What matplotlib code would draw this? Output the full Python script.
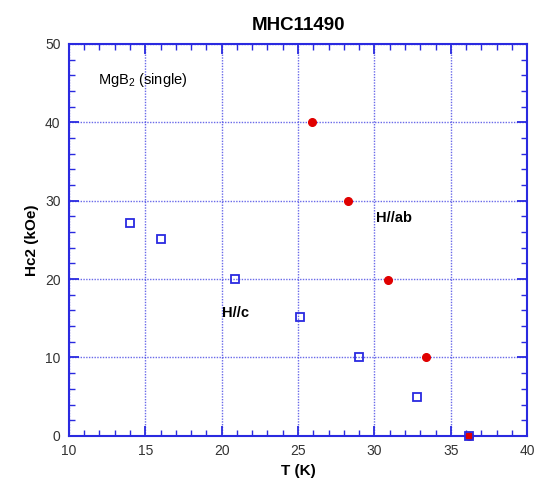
import matplotlib
matplotlib.use('Agg')
import matplotlib.pyplot as plt
from matplotlib.ticker import MultipleLocator

plt.rcParams['font.family'] = ['Liberation Sans', 'DejaVu Sans']

# H parallel to ab (red filled circles)
t_ab = [25.9, 28.3, 30.9, 33.4, 36.2]
h_ab = [40.0, 30.0, 19.9, 10.1, 0.0]

# H parallel to c (blue open squares)
t_c = [14.0, 16.0, 20.9, 25.1, 29.0, 32.8, 36.2]
h_c = [27.2, 25.1, 20.0, 15.1, 10.1, 5.0, 0.0]

blue = '#2a2ae0'

fig = plt.figure(figsize=(5.38, 4.87), dpi=100)
ax = fig.add_axes([0.128, 0.105, 0.852, 0.805])

ax.plot(t_ab, h_ab, 'o', color='#e00000', markersize=5.5, zorder=5, clip_on=False)
ax.plot(t_c, h_c, 's', mfc='none', mec=blue, mew=1.3, markersize=6, zorder=6, clip_on=False)

ax.set_xlim(10, 40)
ax.set_ylim(0, 50)
ax.xaxis.set_major_locator(MultipleLocator(5))
ax.xaxis.set_minor_locator(MultipleLocator(1))
ax.yaxis.set_major_locator(MultipleLocator(10))
ax.yaxis.set_minor_locator(MultipleLocator(2))
ax.tick_params(which='both', direction='in', top=True, right=True, color=blue,
               labelsize=10, labelcolor='#333333', pad=6)
ax.tick_params(which='major', length=7, width=1.3)
ax.tick_params(which='minor', length=4, width=1)
ax.grid(True, which='major', color=blue, linestyle=(0, (1, 1)), linewidth=1, alpha=0.7)
for s in ax.spines.values():
    s.set_color(blue)
    s.set_linewidth(1.5)

ax.set_xlabel('T (K)', fontsize=11, fontweight='bold')
ax.set_ylabel('Hc2 (kOe)', fontsize=11, fontweight='bold')
ax.set_title('MHC11490', fontsize=13.5, fontweight='bold', pad=10)

ax.text(11.9, 45.4, r'MgB$_\mathregular{2}$ (single)', fontsize=10.5, va='center')
ax.text(30.1, 27.8, 'H//ab', fontsize=10.5, fontweight='bold', va='center')
ax.text(20.0, 15.7, 'H//c', fontsize=10.5, fontweight='bold', va='center')

fig.savefig('out.png', dpi=100)
